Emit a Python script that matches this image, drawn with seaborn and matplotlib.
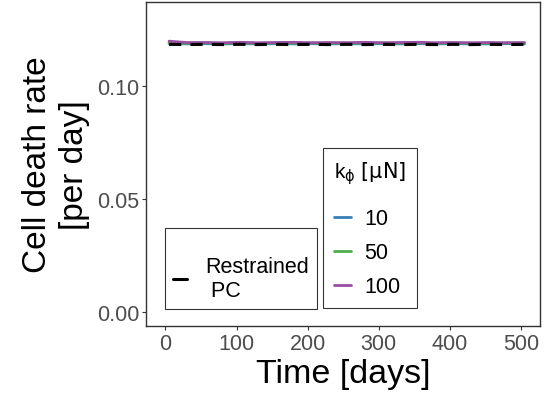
import numpy as np
import pandas as pd
import seaborn as sns
import matplotlib.pyplot as plt
from matplotlib.lines import Line2D

sns.set_theme(style="white")
plt.rcParams['font.family'] = ['Liberation Sans', 'DejaVu Sans']
plt.rcParams['text.color'] = 'black'
plt.rcParams['axes.labelcolor'] = 'black'

# data
time_days = [5, 30, 55, 80, 105, 130, 155, 180, 205, 230, 255,
             280, 305, 330, 355, 380, 405, 430, 455, 480, 505]
k_levels = ['10', '50', '100']
rate_k10 = [0.1186, 0.1184, 0.1185, 0.1184, 0.1185, 0.1184, 0.1185, 0.1184, 0.1185, 0.1184, 0.1185,
            0.1184, 0.1185, 0.1184, 0.1185, 0.1184, 0.1185, 0.1184, 0.1184, 0.1185, 0.1184]
rate_k50 = [0.1188, 0.1187, 0.1188, 0.1187, 0.1188, 0.1187, 0.1188, 0.1187, 0.1188, 0.1187, 0.1188,
            0.1187, 0.1188, 0.1187, 0.1188, 0.1187, 0.1188, 0.1187, 0.1187, 0.1188, 0.1187]
rate_k100 = [0.1196, 0.1190, 0.1190, 0.1189, 0.1191, 0.1189, 0.1190, 0.1191, 0.1189, 0.1190, 0.1189,
             0.1191, 0.1189, 0.1190, 0.1191, 0.1189, 0.1190, 0.1189, 0.1190, 0.1189, 0.1190]
rate_restrained = [0.1182, 0.1181, 0.1182, 0.1181, 0.1182, 0.1181, 0.1182, 0.1181, 0.1182, 0.1181, 0.1182,
                   0.1181, 0.1182, 0.1181, 0.1182, 0.1181, 0.1182, 0.1181, 0.1182, 0.1181, 0.1182]

palette = {'10': '#377EB8', '50': '#4DAF4A', '100': '#984EA3'}

df = pd.DataFrame({
    'time': time_days * 3,
    'rate': rate_k10 + rate_k50 + rate_k100,
    'k': ['10'] * len(time_days) + ['50'] * len(time_days) + ['100'] * len(time_days),
})
df_pc = pd.DataFrame({'time': time_days, 'rate': rate_restrained})

fig, ax = plt.subplots(figsize=(5.5, 4.02), dpi=100)
fig.subplots_adjust(left=0.266, right=0.982, top=0.993, bottom=0.187)

sns.lineplot(data=df, x='time', y='rate', hue='k', hue_order=k_levels,
             palette=palette, lw=2, ax=ax, legend=False)
sns.lineplot(data=df_pc, x='time', y='rate', color='black', lw=2.2,
             ax=ax, legend=False)
ax.lines[-1].set_dashes([4, 3])

ax.set_xlim(-27, 527)
ax.set_ylim(-0.0062, 0.137)
ax.set_xticks([0, 100, 200, 300, 400, 500])
ax.set_yticks([0.0, 0.05, 0.10])
ax.set_yticklabels(['0.00', '0.05', '0.10'])
ax.tick_params(axis='both', labelsize=15.5, labelcolor='#4D4D4D', length=3,
               width=0.8, color='#333333', left=True, bottom=True, pad=2)
ax.set_xlabel('Time [days]', fontsize=24.5, labelpad=3)
ax.set_ylabel('Cell death rate\n[per day]', fontsize=24, labelpad=5, linespacing=1.25)
for sp in ax.spines.values():
    sp.set_color('#333333')
    sp.set_linewidth(1.0)

h_pc = [Line2D([0], [0], color='black', lw=2.2)]
leg1 = ax.legend(h_pc, ['Restrained\n PC'], loc='lower left',
                 bbox_to_anchor=(0.048, 0.0525), fontsize=15.5, frameon=True,
                 fancybox=False, edgecolor='black', handlelength=0.65,
                 handletextpad=0.84, borderpad=0.37, borderaxespad=0,
                 labelspacing=0.2, title=' ', title_fontsize=12)
leg1.get_frame().set_linewidth(0.8)
ax.add_artist(leg1)

h_k = [Line2D([0], [0], color=palette[k], lw=2) for k in k_levels]
leg2 = ax.legend(h_k, k_levels, loc='lower left', bbox_to_anchor=(0.449, 0.0556),
                 title=r'k$_\mathrm{\phi}$ $\left[\mathrm{\mu N}\right]$', title_fontsize=15,
                 fontsize=15.5, frameon=True, fancybox=False, edgecolor='black',
                 handlelength=0.8, handletextpad=0.6, labelspacing=0.6,
                 borderpad=0.5, borderaxespad=0)
leg2.get_frame().set_linewidth(0.8)
leg2._legend_box.align = 'left'
leg2._legend_box.sep = 16

fig.savefig('out.png', dpi=100)
